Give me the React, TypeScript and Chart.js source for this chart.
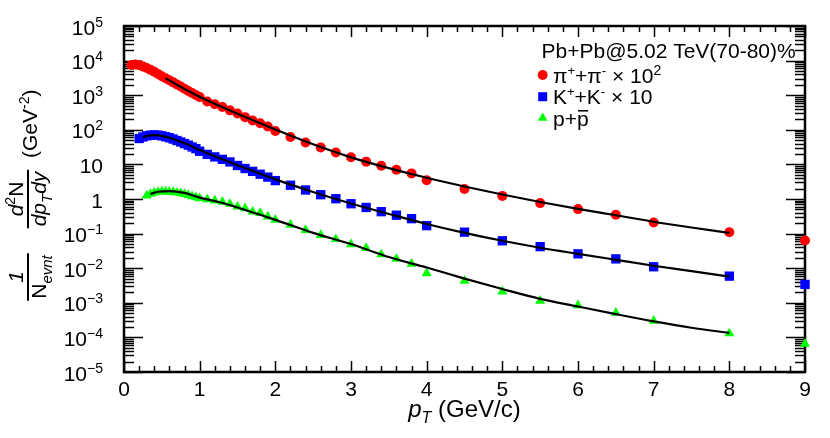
import React, { useEffect, useRef } from 'react';
import { Chart, registerables } from 'chart.js';

Chart.register(...registerables);

// ---------- data ----------
const pionPt = [0.1, 0.15, 0.2, 0.25, 0.3, 0.35, 0.4, 0.45, 0.5, 0.55, 0.6, 0.65, 0.7, 0.75, 0.8, 0.85, 0.9, 0.95, 1.0,
  1.1, 1.2, 1.3, 1.4, 1.5, 1.6, 1.7, 1.8, 1.9, 2.0, 2.2, 2.4, 2.6, 2.8, 3.0, 3.2, 3.4, 3.6, 3.8, 4.0,
  4.5, 5.0, 5.5, 6.0, 6.5, 7.0, 8.0, 9.0];
const pionYield = [7500, 7700, 7400, 6800, 6100, 5400, 4750, 4100, 3550, 3100, 2700, 2350, 2050, 1780, 1540, 1330, 1160, 1010, 880,
  660, 550, 455, 365, 295, 232, 185, 155, 124, 92, 62, 43, 31, 22, 16, 12, 9.1, 7.0, 5.5, 3.5,
  1.95, 1.23, 0.76, 0.51, 0.35, 0.21, 0.11, 0.063];

const kaonPt = [0.2, 0.25, 0.3, 0.35, 0.4, 0.45, 0.5, 0.55, 0.6, 0.65, 0.7, 0.75, 0.8, 0.85, 0.9, 0.95, 1.0,
  1.1, 1.2, 1.3, 1.4, 1.5, 1.6, 1.7, 1.8, 1.9, 2.0, 2.2, 2.4, 2.6, 2.8, 3.0, 3.2, 3.4, 3.6, 3.8, 4.0,
  4.5, 5.0, 5.5, 6.0, 6.5, 7.0, 8.0, 9.0];
const kaonYield = [56, 62, 67, 70, 71, 70, 67, 63, 59, 54, 49, 44.5, 40, 36, 32, 28.5, 24,
  19.5, 16.5, 14, 11.8, 9.3, 7.6, 6.3, 5.2, 4.3, 3.4, 2.5, 1.82, 1.33, 1.02, 0.73, 0.57, 0.43, 0.34, 0.27, 0.17,
  0.11, 0.062, 0.042, 0.026, 0.0186, 0.011, 0.0059, 0.0034];

const protonPt = [0.3, 0.35, 0.4, 0.45, 0.5, 0.55, 0.6, 0.65, 0.7, 0.75, 0.8, 0.85, 0.9, 0.95, 1.0,
  1.1, 1.2, 1.3, 1.4, 1.5, 1.6, 1.7, 1.8, 1.9, 2.0, 2.2, 2.4, 2.6, 2.8, 3.0, 3.2, 3.4, 3.6, 3.8, 4.0,
  4.5, 5.0, 5.5, 6.0, 6.5, 7.0, 8.0, 9.0];
const protonYield = [1.25, 1.4, 1.52, 1.6, 1.64, 1.64, 1.62, 1.58, 1.52, 1.45, 1.38, 1.3, 1.2, 1.12, 1.05,
  0.98, 0.9, 0.83, 0.72, 0.6, 0.54, 0.43, 0.39, 0.31, 0.25, 0.18, 0.126, 0.091, 0.069, 0.049, 0.038, 0.025, 0.0185, 0.0133, 0.0071,
  0.0043, 0.0021, 0.00114, 0.00085, 0.00051, 0.0003, 0.00013, 0.000065];

const pionFitPt = [0.55, 0.7, 0.85, 1.0, 1.25, 1.5, 1.75, 2.0, 2.5, 3.0, 3.5, 4.0, 4.5, 5.0, 5.5, 6.0, 6.5, 7.0, 7.5, 8.0];
const pionFitYield = [3100, 2000, 1320, 900, 500, 290, 172, 102, 38, 16, 7.8, 4.1, 2.3, 1.35, 0.82, 0.52, 0.34, 0.22, 0.15, 0.105];

const kaonFitPt = [0.25, 0.3, 0.4, 0.5, 0.6, 0.7, 0.85, 1.0, 1.25, 1.5, 1.75, 2.0, 2.5, 3.0, 3.5, 4.0, 4.5, 5.0, 5.5, 6.0, 6.5, 7.0, 7.5, 8.0];
const kaonFitYield = [60, 66, 70, 67, 59, 50, 37, 26, 15.5, 9.5, 5.9, 3.7, 1.6, 0.74, 0.37, 0.19, 0.105, 0.062, 0.039, 0.026, 0.0175, 0.0118, 0.0082, 0.0057];

const protonFitPt = [0.35, 0.45, 0.6, 0.8, 1.0, 1.25, 1.5, 1.75, 2.0, 2.5, 3.0, 3.5, 4.0, 4.5, 5.0, 5.5, 6.0, 6.5, 7.0, 7.5, 8.0];
const protonFitYield = [1.4, 1.62, 1.7, 1.5, 1.1, 0.82, 0.57, 0.38, 0.25, 0.105, 0.05, 0.021, 0.0105, 0.005, 0.0025, 0.0013, 0.00078, 0.00047, 0.00029, 0.00019, 0.000135];

const xTickValues = [0, 1, 2, 3, 4, 5, 6, 7, 8, 9];
const xTickLabels = ['0', '1', '2', '3', '4', '5', '6', '7', '8', '9'];
const yTickExponents = [-5, -4, -3, -2, -1, 0, 1, 2, 3, 4, 5];
const legendTitle = 'Pb+Pb@5.02 TeV(70-80)%';

// ---------- styling helpers ----------
const FONT = '"Liberation Sans", Arial, Helvetica, sans-serif';

type Seg = { t: string; size: number; dy?: number; italic?: boolean; bar?: boolean };

function setFont(ctx: any, s: Seg) {
  ctx.font = `${s.italic ? 'italic ' : ''}${s.size}px ${FONT}`;
}
function segsWidth(ctx: any, segs: Seg[]) {
  let w = 0;
  for (const s of segs) {
    setFont(ctx, s);
    w += ctx.measureText(s.t).width;
  }
  return w;
}
function drawSegs(ctx: any, x: number, y: number, segs: Seg[]) {
  let cx = x;
  for (const s of segs) {
    setFont(ctx, s);
    ctx.fillText(s.t, cx, y + (s.dy || 0));
    const w = ctx.measureText(s.t).width;
    if (s.bar) {
      ctx.beginPath();
      ctx.lineWidth = 1.5;
      const by = y + (s.dy || 0) - s.size * 0.7;
      ctx.moveTo(cx + 1, by);
      ctx.lineTo(cx + w - 0.5, by);
      ctx.stroke();
    }
    cx += w;
  }
  return cx - x;
}

const toPoints = (xs: number[], ys: number[]) => xs.map((x, i) => ({ x, y: ys[i] }));

const rootPlugin = {
  id: 'rootStyle',
  beforeDatasetsDraw(chart: any) {
    const ctx = chart.ctx;
    const { left, right, top, bottom } = chart.chartArea;
    const xs = chart.scales.x;
    const ys = chart.scales.y;
    ctx.save();
    ctx.strokeStyle = '#000';
    ctx.lineCap = 'butt';
    ctx.lineWidth = 1.5;
    // x ticks (bottom & top)
    for (let i = 0; i <= 45; i++) {
      const v = i * 0.2;
      const px = Math.round(xs.getPixelForValue(v)) + 0.5;
      const len = i % 5 === 0 ? 11 : 6;
      ctx.beginPath();
      ctx.moveTo(px, bottom);
      ctx.lineTo(px, bottom - len);
      ctx.moveTo(px, top);
      ctx.lineTo(px, top + len);
      ctx.stroke();
    }
    // y ticks (left & right)
    for (let e = -5; e <= 5; e++) {
      for (let m = 1; m <= 9; m++) {
        if (e === 5 && m > 1) break;
        const v = m * Math.pow(10, e);
        const py = Math.round(ys.getPixelForValue(v)) + 0.5;
        const len = m === 1 ? 19 : 10;
        ctx.beginPath();
        ctx.moveTo(left, py);
        ctx.lineTo(left + len, py);
        ctx.moveTo(right, py);
        ctx.lineTo(right - len, py);
        ctx.stroke();
      }
    }
    // frame
    ctx.lineWidth = 2.5;
    ctx.strokeRect(left, top, right - left, bottom - top);
    ctx.restore();
  },
  afterDraw(chart: any) {
    const ctx = chart.ctx;
    const { left, right, bottom } = chart.chartArea;
    const xs = chart.scales.x;
    const ys = chart.scales.y;
    ctx.save();
    ctx.fillStyle = '#000';
    ctx.strokeStyle = '#000';
    ctx.textBaseline = 'alphabetic';
    ctx.textAlign = 'left';

    // y tick labels
    for (const e of yTickExponents) {
      const py = ys.getPixelForValue(Math.pow(10, e));
      const segs: Seg[] = e === 0 ? [{ t: '1', size: 21 }]
        : e === 1 ? [{ t: '10', size: 21 }]
        : [{ t: '10', size: 21 }, { t: e < 0 ? '\u2212' + (-e) : String(e), size: 14, dy: -8 }];
      const w = segsWidth(ctx, segs);
      drawSegs(ctx, left - 21 - w, py + 8.5, segs);
    }
    // x tick labels
    xTickValues.forEach((v, i) => {
      const px = xs.getPixelForValue(v);
      const segs: Seg[] = [{ t: xTickLabels[i], size: 21 }];
      const w = segsWidth(ctx, segs);
      drawSegs(ctx, px - w / 2, bottom + 24, segs);
    });

    // x axis title
    const xt: Seg[] = [
      { t: 'p', size: 24, italic: true },
      { t: 'T', size: 16, italic: true, dy: 6 },
      { t: ' (GeV/c)', size: 24 },
    ];
    const xtw = segsWidth(ctx, xt);
    drawSegs(ctx, (left + right) / 2 - xtw / 2, bottom + 45, xt);

    // y axis title (rotated)
    ctx.save();
    const barX = 28;
    ctx.translate(barX, 0);
    ctx.rotate(-Math.PI / 2);
    const drawFrac = (num: Seg[], den: Seg[], centerY: number) => {
      const wn = segsWidth(ctx, num);
      const wd = segsWidth(ctx, den);
      const c = -centerY;
      const bl = Math.max(wn, wd) + 4;
      drawSegs(ctx, c - wn / 2, -5, num);
      drawSegs(ctx, c - wd / 2, 18, den);
      ctx.beginPath();
      ctx.lineWidth = 2;
      ctx.moveTo(c - bl / 2, 0);
      ctx.lineTo(c + bl / 2, 0);
      ctx.stroke();
    };
    drawFrac([{ t: '1', size: 21, italic: true }],
      [{ t: 'N', size: 21 }, { t: 'evnt', size: 15, italic: true, dy: 6 }], 277);
    drawFrac([{ t: 'd', size: 21, italic: true }, { t: '2', size: 14, dy: -8 }, { t: 'N', size: 21 }],
      [{ t: 'd', size: 21, italic: true }, { t: 'p', size: 21, italic: true }, { t: 'T', size: 15, italic: true, dy: 6 },
        { t: 'd', size: 21, italic: true }, { t: 'y', size: 21, italic: true }], 199);
    drawSegs(ctx, -158, 9, [{ t: '(GeV', size: 21 }, { t: '-2', size: 14, dy: -8 }, { t: ')', size: 21 }]);
    ctx.restore();

    // legend
    const lx = 542.7;
    drawSegs(ctx, 541.5, 58, [{ t: legendTitle, size: 21 }]);
    // pion entry
    ctx.fillStyle = '#ff0000';
    ctx.beginPath();
    ctx.arc(lx, 75, 5, 0, Math.PI * 2);
    ctx.fill();
    ctx.fillStyle = '#000';
    drawSegs(ctx, 553, 82.5, [
      { t: '\u03c0', size: 21 }, { t: '+', size: 13, dy: -8 }, { t: '+', size: 21 }, { t: '\u03c0', size: 21 },
      { t: '-', size: 13, dy: -8 }, { t: ' \u00d7 10', size: 21 }, { t: '2', size: 14, dy: -8 },
    ]);
    // kaon entry
    ctx.fillStyle = '#0000ff';
    ctx.fillRect(lx - 4.5, 96.7 - 4.5, 9, 9);
    ctx.fillStyle = '#000';
    drawSegs(ctx, 553, 104, [
      { t: 'K', size: 21 }, { t: '+', size: 13, dy: -8 }, { t: '+', size: 21 }, { t: 'K', size: 21 },
      { t: '-', size: 13, dy: -8 }, { t: ' \u00d7 10', size: 21 },
    ]);
    // proton entry
    ctx.fillStyle = '#00ff00';
    const r = 5.6;
    ctx.beginPath();
    ctx.moveTo(lx, 118 - r);
    ctx.lineTo(lx + r * 0.866, 118 + r / 2);
    ctx.lineTo(lx - r * 0.866, 118 + r / 2);
    ctx.closePath();
    ctx.fill();
    ctx.fillStyle = '#000';
    drawSegs(ctx, 553, 125.5, [{ t: 'p+', size: 21 }, { t: 'p', size: 21, bar: true }]);

    ctx.restore();
  },
};

export default function App() {
  const ref = useRef<HTMLCanvasElement | null>(null);
  useEffect(() => {
    if (!ref.current) return;
    const pointBase = { showLine: false, pointBorderWidth: 0, borderWidth: 0, order: 1, clip: false as any };
    const fitBase = {
      showLine: true, borderColor: '#000000', borderWidth: 2.2, pointRadius: 0, pointHoverRadius: 0,
      cubicInterpolationMode: 'monotone' as const, order: 0, fill: false,
    };
    const chart = new Chart(ref.current, {
      type: 'scatter',
      data: {
        datasets: [
          { ...fitBase, label: 'pi fit', data: toPoints(pionFitPt, pionFitYield) },
          { ...fitBase, label: 'K fit', data: toPoints(kaonFitPt, kaonFitYield) },
          { ...fitBase, label: 'p fit', data: toPoints(protonFitPt, protonFitYield) },
          {
            ...pointBase, label: 'pi+ + pi- x 10^2', data: toPoints(pionPt, pionYield),
            pointStyle: 'circle', pointRadius: 5, pointBackgroundColor: '#ff0000', backgroundColor: '#ff0000',
          },
          {
            ...pointBase, label: 'K+ + K- x 10', data: toPoints(kaonPt, kaonYield),
            pointStyle: 'rect', pointRadius: 6.6, pointBackgroundColor: '#0000ff', backgroundColor: '#0000ff',
          },
          {
            ...pointBase, label: 'p + pbar', data: toPoints(protonPt, protonYield),
            pointStyle: 'triangle', pointRadius: 5.8, pointBackgroundColor: '#00ff00', backgroundColor: '#00ff00',
          },
        ] as any,
      },
      options: {
        responsive: false,
        animation: false,
        events: [],
        layout: { padding: { top: 26, right: 25, left: 0, bottom: 0 } },
        plugins: { legend: { display: false }, tooltip: { enabled: false }, title: { display: false } },
        scales: {
          x: {
            type: 'linear', min: 0, max: 9,
            grid: { display: false }, border: { display: false }, ticks: { display: false },
            afterFit: (s: any) => { s.height = 66; },
          },
          y: {
            type: 'logarithmic', min: 1e-5, max: 1e5,
            grid: { display: false }, border: { display: false }, ticks: { display: false },
            afterFit: (s: any) => { s.width = 124; },
          },
        },
      } as any,
      plugins: [rootPlugin],
    });
    return () => chart.destroy();
  }, []);
  return (
    <div style={{ position: 'absolute', left: 0, top: 0, width: 830, height: 438, background: '#fff' }}>
      <canvas ref={ref} width={830} height={438} style={{ width: 830, height: 438, display: 'block' }} />
    </div>
  );
}
